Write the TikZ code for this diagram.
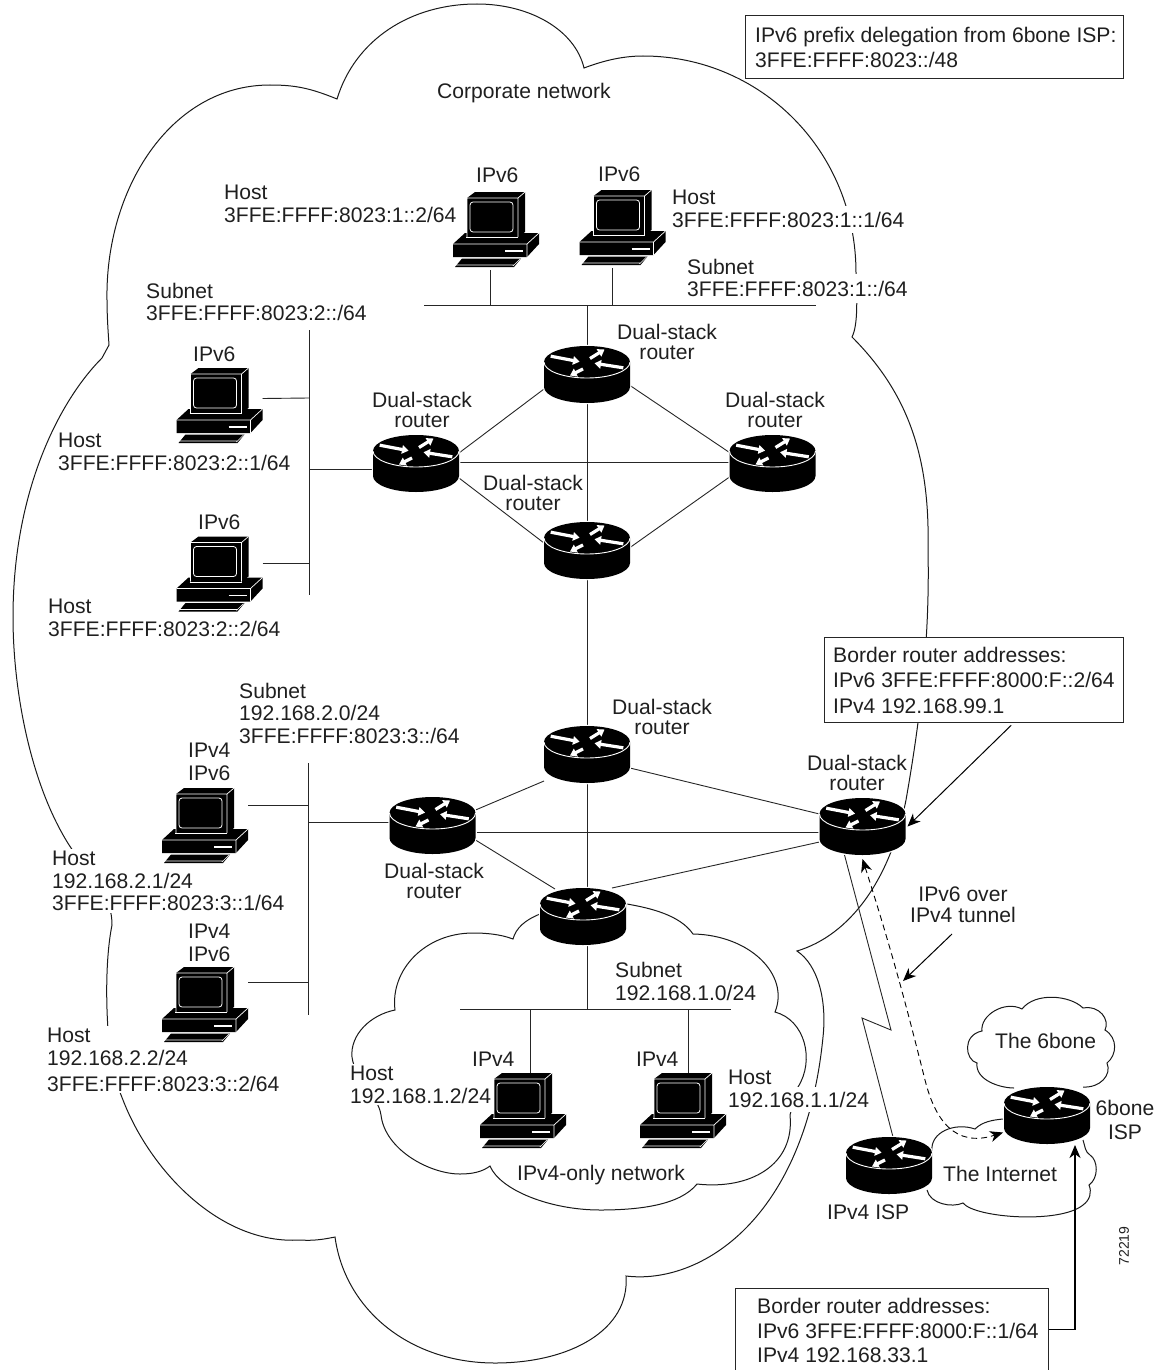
\documentclass[tikz,border=0pt]{standalone}
\usepackage{fontspec}
\setmainfont{Liberation Sans}
\usetikzlibrary{arrows.meta}
\tikzset{
  lbl/.style={font=\fontsize{21.1}{22.5}\selectfont,align=left,inner sep=0pt,anchor=north west,text=black!88},
  ctr/.style={font=\fontsize{21.1}{20}\selectfont,align=center,inner sep=0pt,anchor=north west,text=black!88},
  mid/.style={font=\fontsize{21.1}{21}\selectfont,align=center,inner sep=0pt,anchor=north,text=black!88},
  gaplbl/.style={lbl,fill=white,inner xsep=2pt,inner ysep=#1,text height=15pt},
  gaplbl/.default=5pt,
  boxed/.style={draw=black!85,line width=1.3pt,fill=white,inner sep=0pt,anchor=north west},
  wire/.style={line width=0.9pt,draw=black!85},
  cloudline/.style={line width=1pt,draw=black!90},
  rbox/.style={minimum width=86pt,minimum height=57pt,inner sep=0pt,outer sep=0pt},
  hbox/.style={minimum width=86pt,minimum height=75pt,inner sep=0pt,outer sep=0pt},
  ptr/.style={line width=1pt,draw=black,-{Stealth[length=13pt,width=11pt,inset=4pt]}},
  router/.pic={
    \path[fill=black,draw=white,line width=2.5pt] (-43,-12.5) .. controls (-43,-21.34) and (-23.75,-28.5) .. (0,-28.5) .. controls (23.75,-28.5) and (43,-21.34) .. (43,-12.5) -- (43,12.5) .. controls (43,21.34) and (23.75,28.5) .. (0,28.5) .. controls (-23.75,28.5) and (-43,21.34) .. (-43,12.5) -- cycle;
    \fill[black] (-43,-12.5) .. controls (-43,-21.34) and (-23.75,-28.5) .. (0,-28.5) .. controls (23.75,-28.5) and (43,-21.34) .. (43,-12.5) -- (43,12.5) .. controls (43,21.34) and (23.75,28.5) .. (0,28.5) .. controls (-23.75,28.5) and (-43,21.34) .. (-43,12.5) -- cycle;
    \draw[white,line width=0.9pt] (43,-12.5) .. controls (43,-3.66) and (23.75,3.5) .. (0,3.5) .. controls (-23.75,3.5) and (-43,-3.66) .. (-43,-12.5);
    \foreach \ax/\ay/\bx/\by in {-36.3/-18.3/-7.5/-12.8, 3/-16/17.5/-25, 36.3/-6.7/7.5/-11.2, -4/-5.5/-17/1}
      \draw[white,line width=3.2pt,-{Triangle[length=6.5pt,width=8.5pt]}] (\ax,\ay) -- (\bx,\by);
  },
  host/.pic={
    % base
    \fill[black] (-31,3) -- (43,3) -- (43,14) -- (31,27) -- (-43,27) -- (-43,14) -- cycle;
    \draw[white,line width=0.7pt] (-43,14) -- (31,14) -- (43,3) (31,14) -- (31,27);
    \draw[white,line width=1.2pt] (9,21) -- (27,21);
    % keyboard
    \fill[black] (-34,28.5) -- (25,28.5) -- (18,37) -- (-41,37) -- cycle;
    \draw[white,line width=0.6pt] (-40,35) -- (18,35) (24,29) -- (17,36);
    % monitor
    \fill[black] (-21,-38) -- (29,-38) -- (29,2) -- (22,7) -- (-29,7) -- (-29,-32) -- cycle;
    \draw[white,line width=0.7pt] (-29,7) -- (-29,-32) -- (22,-32) -- (22,7) (22,-32) -- (29,-38);
    \draw[white,line width=0.7pt] (-30,7.5) -- (22,7.5);
    \draw[white,line width=0.8pt,rounded corners=3pt] (-26,-28) rectangle (17,2);
  }
}
\begin{document}
\begin{tikzpicture}[x=1pt,y=-1pt,line cap=butt]
\useasboundingbox (0,0) rectangle (1173,1370);
% ---------- corporate cloud
\draw[cloudline] (337,99) .. controls (310,88) and (295,85) .. (270,85) .. controls (170,85) and (105,190) .. (107,300) .. controls (107,315) and (108,330) .. (109,345) -- (102,358)
  .. controls (60,400) and (13,490) .. (13,617) .. controls (13,690) and (30,780) .. (66,840) .. controls (85,872) and (112,890) .. (112,925)
  .. controls (105,960) and (106,1010) .. (109,1042) .. controls (112,1070) and (115,1080) .. (123,1100) .. controls (150,1170) and (220,1245) .. (300,1240) .. controls (315,1241) and (325,1239) .. (335,1237)
  .. controls (345,1310) and (410,1363) .. (495,1363) .. controls (570,1363) and (630,1330) .. (626,1276)
  .. controls (700,1285) and (805,1220) .. (823,1037) .. controls (827,1000) and (818,965) .. (797,951)
  .. controls (850,935) and (890,880) .. (906,800) .. controls (920,720) and (930,640) .. (928,550) .. controls (930,460) and (910,395) .. (852,337)
  .. controls (858,325) and (857,300) .. (856,273) .. controls (856,150) and (760,56) .. (643,56) .. controls (620,56) and (600,62) .. (584,68)
  .. controls (575,30) and (530,4) .. (477,4) .. controls (410,4) and (355,40) .. (337,99) -- cycle;
% ---------- IPv4-only cloud
\draw[cloudline] (540,914) .. controls (525,920) and (516,928) .. (513,939)
  .. controls (500,934) and (485,933) .. (473,933) .. controls (425,933) and (390,970) .. (395,1010)
  .. controls (370,1015) and (350,1035) .. (352,1057) .. controls (355,1080) and (378,1095) .. (381,1115)
  .. controls (385,1150) and (430,1174) .. (460,1174) .. controls (472,1174) and (482,1172) .. (490,1166)
  .. controls (500,1190) and (550,1210) .. (600,1210) .. controls (640,1210) and (680,1205) .. (697,1184)
  .. controls (750,1190) and (795,1165) .. (790,1115) -- (798,1087) .. controls (815,1060) and (805,1020) .. (775,1012)
  .. controls (790,975) and (750,935) .. (693,934) .. controls (680,915) and (650,908) .. (627,904);
% ---------- The 6bone cloud
\draw[cloudline] (1014,1088) .. controls (1000,1088) and (975,1080) .. (977,1063)
  .. controls (965,1060) and (962,1035) .. (982,1031)
  .. controls (980,1015) and (1005,1000) .. (1022,1009)
  .. controls (1035,992) and (1070,995) .. (1083,1008)
  .. controls (1100,1005) and (1110,1020) .. (1105,1030)
  .. controls (1118,1038) and (1117,1055) .. (1107,1063)
  .. controls (1112,1075) and (1100,1088) .. (1083,1087);
% ---------- The Internet cloud
\draw[cloudline] (1003,1119) .. controls (992,1120) and (982,1122) .. (975,1129)
  .. controls (955,1122) and (930,1132) .. (932,1151);
\draw[cloudline] (927,1190) .. controls (930,1204) and (952,1208) .. (963,1203)
  .. controls (975,1218) and (1060,1224) .. (1083,1205)
  .. controls (1090,1200) and (1092,1192) .. (1089,1185)
  .. controls (1099,1178) and (1098,1160) .. (1090,1155)
  .. controls (1085,1152) and (1085,1146) .. (1083,1140);
% ---------- labels
\node[lbl] (tcorp) at (437,83) {Corporate network};
\node[lbl] (t1) at (224,185) {Host\\3FFE:FFFF:8023:1::2/64};
\node[lbl] (t2) at (672,190) {Host};
\node[gaplbl=6pt] (t2a) at (670,206) {3FFE:FFFF:8023:1::1/64};
\node[lbl] (t3) at (687,259) {Subnet};
\node[gaplbl=7pt] (t3a) at (685,274) {3FFE:FFFF:8023:1::/64};
\node[lbl] (t4) at (146,283) {Subnet\\3FFE:FFFF:8023:2::/64};
\node[lbl] (t5) at (58,433) {Host\\3FFE:FFFF:8023:2::1/64};
\node[lbl] (t6) at (48,599) {Host\\3FFE:FFFF:8023:2::2/64};
\node[lbl] (t7) at (239,683) {Subnet\\192.168.2.0/24\\3FFE:FFFF:8023:3::/64};
\node[lbl,fill=white,inner sep=2pt] (t8) at (50,849) {Host\\192.168.2.1/24\\3FFE:FFFF:8023:3::1/64};
\node[lbl,fill=white,inner sep=2pt] (t9) at (45,1026) {Host\\192.168.2.2/24\\[3.5pt]3FFE:FFFF:8023:3::2/64};
\node[lbl,fill=white,inner sep=2pt] (t10) at (348,1064) {Host\\192.168.1.2/24};
\node[lbl] (t11) at (728,1070) {Host};
\node[gaplbl=5pt] (t11a) at (726,1087) {192.168.1.1/24};
\node[lbl] (t12) at (615,962) {Subnet\\192.168.1.0/24};
\node[lbl] (t13) at (517,1165) {IPv4-only network};
\node[lbl] (v1) at (476,168) {IPv6};
\node[lbl] (v2) at (598,167) {IPv6};
\node[lbl] (v3) at (193,347) {IPv6};
\node[lbl] (v4) at (198,515) {IPv6};
\node[lbl] (v5) at (188,743) {IPv4\\IPv6};
\node[lbl] (v6) at (188,924) {IPv4\\IPv6};
\node[lbl] (v7) at (472,1052) {IPv4};
\node[lbl] (v8) at (636,1052) {IPv4};
\node[ctr] (d1) at (617,324) {Dual-stack\\router};
\node[ctr] (d2) at (372,392) {Dual-stack\\router};
\node[ctr] (d3) at (725,392) {Dual-stack\\router};
\node[ctr] (d4) at (483,475) {Dual-stack\\router};
\node[ctr] (d5) at (612,699) {Dual-stack\\router};
\node[ctr] (d6) at (384,863) {Dual-stack\\router};
\node[ctr] (d7) at (807,755) {Dual-stack\\router};
\node[mid] (ttun) at (963,887) {IPv6 over\\IPv4 tunnel};
\node[lbl] (tinet) at (943,1166) {The Internet};
\node[lbl] (t6b) at (995,1033) {The 6bone};
\node[mid,font=\fontsize{21.1}{24}\selectfont] (tisp) at (1125,1100) {6bone\\ISP};
\node[lbl] (t4isp) at (827,1205) {IPv4 ISP};
\node[font=\fontsize{14}{14}\selectfont,rotate=90,inner sep=0pt,text=black!88] (tnum) at (1124,1246) {72219};
% ---------- boxes
\node[boxed,minimum width=378pt,minimum height=63pt] (bx0) at (745,15) {};
\node[lbl,font=\fontsize{21.1}{25}\selectfont] (bt0) at (755,27) {IPv6 prefix delegation from 6bone ISP:\\3FFE:FFFF:8023::/48};
\node[boxed,minimum width=299pt,minimum height=85pt] (bx1) at (824,637) {};
\node[lbl,font=\fontsize{21.1}{25.5}\selectfont] (bt1) at (833,647) {Border router addresses:\\IPv6 3FFE:FFFF:8000:F::2/64\\IPv4 192.168.99.1};
\node[boxed,minimum width=313pt,minimum height=90pt] (bx2) at (735,1288) {};
\node[lbl,font=\fontsize{21.1}{24.5}\selectfont] (bt2) at (757,1298) {Border router addresses:\\IPv6 3FFE:FFFF:8000:F::1/64\\IPv4 192.168.33.1};
% ---------- device anchors
\node[rbox] (r1) at (587,374.5) {};
\node[rbox] (r2) at (416,463.5) {};
\node[rbox] (r3) at (772.5,463.5) {};
\node[rbox] (r4) at (587,550.5) {};
\node[rbox] (r5) at (587,754.5) {};
\node[rbox] (r6) at (432.5,825.5) {};
\node[rbox] (r7) at (862.5,826.5) {};
\node[rbox] (r8) at (583,916.5) {};
\node[rbox] (r9) at (889,1165.5) {};
\node[rbox] (r10) at (1047,1115.5) {};
\node[hbox] (h1) at (496,229.5) {};
\node[hbox] (h2) at (622.5,227.5) {};
\node[hbox] (h3) at (219.5,405.5) {};
\node[hbox] (h4) at (219.5,574) {};
\node[hbox] (h5) at (205,825.5) {};
\node[hbox] (h6) at (205,1004.5) {};
\node[hbox] (h7) at (523,1110.5) {};
\node[hbox] (h8) at (683,1110.5) {};
% ---------- bus end points
\coordinate (s1a) at (424,305); \coordinate (s1b) at (816,305);
\coordinate (s1h1) at (490,305); \coordinate (s1h2) at (612,305); \coordinate (s1r) at (587,305);
\coordinate (s2a) at (309,330); \coordinate (s2b) at (309,595);
\coordinate (s2h3) at (309,398); \coordinate (s2r) at (309,469); \coordinate (s2h4) at (309,563);
\coordinate (s3a) at (308,763); \coordinate (s3b) at (308,1015);
\coordinate (s3h5) at (308,805); \coordinate (s3r) at (308,822); \coordinate (s3h6) at (308,982);
\coordinate (s4a) at (460,1009); \coordinate (s4b) at (731,1009);
\coordinate (s4r) at (587,1009); \coordinate (s4h7) at (530,1009); \coordinate (s4h8) at (688,1009);
% ---------- connectors
\draw[wire] (s1a) -- (s1b);
\draw[wire] (s2a) -- (s2b);
\draw[wire] (s3a) -- (s3b);
\draw[wire] (s4a) -- (s4b);
\draw[wire] ([xshift=-6pt,yshift=-3pt]h1.south) -- (s1h1);
\draw[wire] ([xshift=-10.5pt,yshift=-3pt]h2.south) -- (s1h2);
\draw[wire] (r1.north) -- (s1r);
\draw[wire] ([yshift=7pt]h3.east) -- (s2h3);
\draw[wire] ([yshift=11pt]h4.east) -- (s2h4);
\draw[wire] ([yshift=-5.5pt]r2.west) -- (s2r);
\draw[wire] ([yshift=20.5pt]h5.east) -- (s3h5);
\draw[wire] ([yshift=22.5pt]h6.east) -- (s3h6);
\draw[wire] ([yshift=3.5pt]r6.west) -- (s3r);
\draw[wire] ([xshift=4pt]r8.south) -- (s4r);
\draw[wire] ([xshift=7pt]h7.north) -- (s4h7);
\draw[wire] ([xshift=5pt]h8.north) -- (s4h8);
\draw[wire] ([yshift=-14.5pt]r1.west) -- ([yshift=10.5pt]r2.east);
\draw[wire] ([yshift=-11pt]r1.east) -- ([yshift=11pt]r3.west);
\draw[wire] ([yshift=1.5pt]r2.east) -- ([yshift=1.5pt]r3.west);
\draw[wire] ([yshift=-14.5pt]r2.east) -- ([yshift=7.5pt]r4.west);
\draw[wire] ([yshift=-13.5pt]r3.west) -- ([yshift=3pt]r4.east);
\draw[wire] (r1.south) -- (r4.north);
\draw[wire] (r4.south) -- (r5.north);
\draw[wire] ([yshift=-26.5pt]r5.west) -- ([yshift=15.5pt]r6.east);
\draw[wire] ([yshift=-13.5pt]r5.east) -- ([yshift=12.5pt]r7.west);
\draw[wire] ([yshift=-6.5pt]r6.east) -- ([yshift=-5.5pt]r7.west);
\draw[wire] ([yshift=-14.5pt]r6.east) -- ([xshift=15pt,yshift=27.5pt]r8.west);
\draw[wire] (r5.south) -- ([xshift=4pt]r8.north);
\draw[wire] ([xshift=29pt]r8.north) -- ([yshift=-15.5pt]r7.west);
\coordinate (z1) at (891,1030); \coordinate (z2) at (862,1018);
\draw[wire] ([xshift=-18pt]r7.south) -- (z1) -- (z2) -- ([xshift=4pt]r9.north);
\draw[ptr] ([xshift=37pt,yshift=-2pt]bx1.south) -- ([xshift=2pt]r7.east);
\coordinate (tuntail) at (952,934); \coordinate (tuntip) at (903,981);
\draw[ptr] (tuntail) -- (tuntip);
\draw[line width=0.9pt,dashed,dash pattern=on 6pt off 4pt,{Stealth[length=13pt,width=11pt,inset=4pt]}-{Stealth[length=13pt,width=11pt,inset=4pt]}]
  ([yshift=-4pt]r7.south) .. controls (890,945) and (905,1000) .. (925,1080) .. controls (935,1120) and (955,1148) .. ([xshift=-1pt,yshift=-17pt]r10.west);
% ---------- device icons
\foreach \n in {r1,r2,r3,r4,r5,r6,r7,r8,r9,r10} \pic at (\n) {router};
\foreach \n in {h1,h2,h3,h4,h5,h6,h7,h8} \pic at ([yshift=-0.5pt]\n) {host};
\draw[ptr,line width=1.3pt] ([yshift=4pt]bx2.east) -| ([xshift=28pt,yshift=-1pt]r10.south);
\end{tikzpicture}
\end{document}
